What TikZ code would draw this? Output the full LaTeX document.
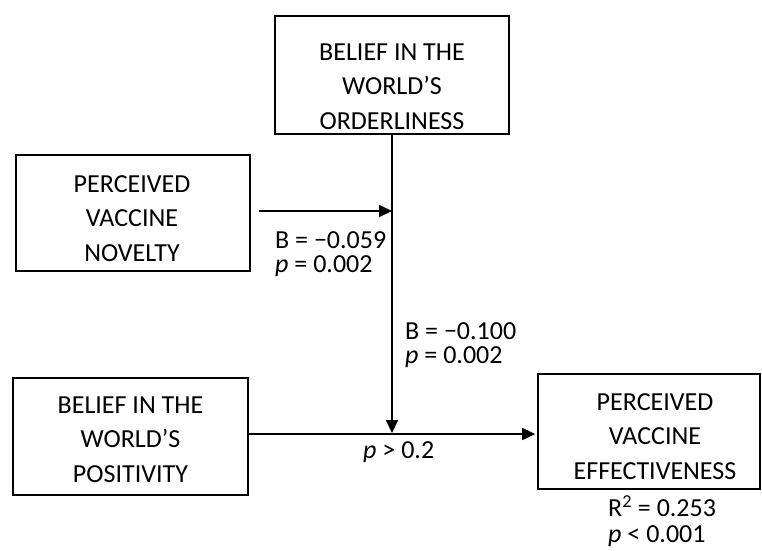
\documentclass[tikz,border=0pt]{standalone}
\usepackage{fontspec}
\setmainfont{Carlito}
\usetikzlibrary{arrows.meta}
\begin{document}
\begin{tikzpicture}[x=1pt,y=-1pt,
  boxnode/.style={draw, line width=1.7pt, inner sep=0pt},
  txt/.style={anchor=base, inner sep=0pt, font=\fontsize{26}{34.5}\selectfont},
  lbl/.style={anchor=base west, inner sep=0pt, font=\fontsize{26}{24}\selectfont},
  arr/.style={line width=1.7pt, -{Triangle[length=13pt,width=12pt]}}]
\useasboundingbox[fill=white] (0,0) rectangle (762,550);
% boxes
\node[boxnode, minimum width=234pt, minimum height=118pt] (ord) at (392,75) {};
\node[txt] (ordt) at (392,60) {\begin{tabular}[t]{@{}c@{}}BELIEF IN THE\\WORLD’S\\ORDERLINESS\end{tabular}};
\node[boxnode, minimum width=234pt, minimum height=116pt] (nov) at (133,213) {};
\node[txt] (novt) at (132,192) {\begin{tabular}[t]{@{}c@{}}PERCEIVED\\VACCINE\\NOVELTY\end{tabular}};
\node[boxnode, minimum width=235pt, minimum height=117pt] (pos) at (130.5,436.5) {};
\node[txt] (post) at (130.5,413) {\begin{tabular}[t]{@{}c@{}}BELIEF IN THE\\WORLD’S\\POSITIVITY\end{tabular}};
\node[boxnode, minimum width=222pt, minimum height=115pt] (eff) at (649,431.5) {};
\node[txt] (efft) at (655,410) {\begin{tabular}[t]{@{}c@{}}PERCEIVED\\VACCINE\\EFFECTIVENESS\end{tabular}};
% junction points
\coordinate (m) at (392,434);
\coordinate (n) at (392,211);
% connectors
\draw[arr] (ord.south) -- ([yshift=1pt]m);
\draw[arr] ([xshift=8pt]nov.east |- n) -- (n);
\draw[arr] (pos.east |- m) -- ([xshift=-2pt]eff.west |- m);
% labels
\node[lbl] (l1) at (275,248) {\begin{tabular}[t]{@{}l@{}}B = −0.059\\\textit{p} = 0.002\end{tabular}};
\node[lbl] (l2) at (405,339) {\begin{tabular}[t]{@{}l@{}}B = −0.100\\\textit{p} = 0.002\end{tabular}};
\node[lbl] (l3) at (363,458) {\textit{p} > 0.2};
\node[lbl, font=\fontsize{26}{25.5}\selectfont] (l4) at (608,516.5) {\begin{tabular}[t]{@{}l@{}}R\textsuperscript{2} = 0.253\\\textit{p} < 0.001\end{tabular}};
\end{tikzpicture}
\end{document}
